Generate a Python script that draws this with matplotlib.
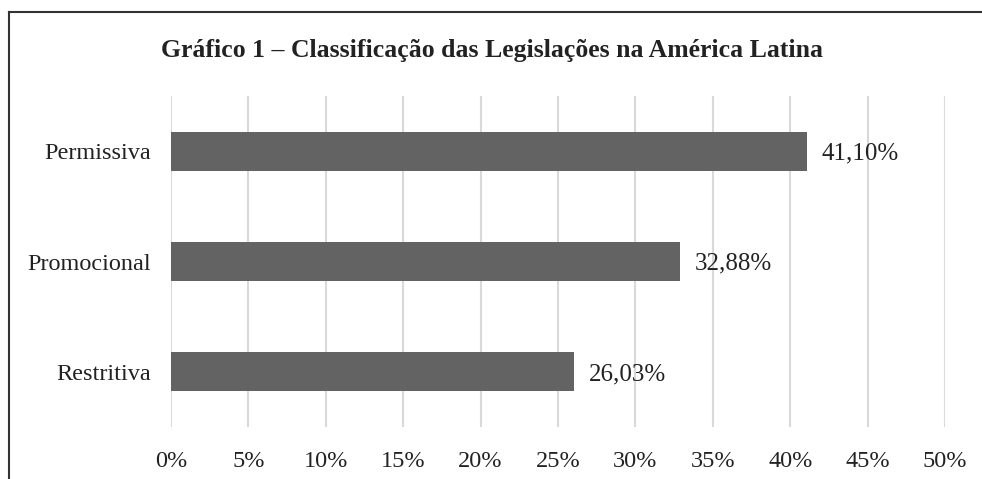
import matplotlib.pyplot as plt
from matplotlib.lines import Line2D

categorias = ['Permissiva', 'Promocional', 'Restritiva']
valores = [41.10, 32.88, 26.03]
rotulos = ['41,10%', '32,88%', '26,03%']
ticks = [0, 5, 10, 15, 20, 25, 30, 35, 40, 45, 50]

plt.rcParams['font.family'] = ['Liberation Serif', 'DejaVu Serif']

fig = plt.figure(figsize=(9.82, 4.79), dpi=100)
ax = fig.add_axes([171 / 982, 1 - 427 / 479, (945 - 171) / 982, (427 - 96) / 479])

pos = list(range(len(categorias)))
ax.barh(pos, valores, height=0.354, color='#636363', zorder=3)
for p, v, r in zip(pos, valores, rotulos):
    ax.text(v + 0.95, p + 0.02, r, va='center', ha='left', fontsize=18, color='#222222')

ax.set_xlim(0, 50)
ax.set_ylim(2.5, -0.5)
ax.set_yticks(pos)
ax.set_yticklabels(categorias, fontsize=17.5, color='#222222')
ax.set_xticks(ticks)
ax.set_xticklabels([f'{t}%' for t in ticks], fontsize=17.5, color='#222222')
ax.tick_params(axis='both', length=0)
ax.tick_params(axis='x', pad=17)
ax.tick_params(axis='y', pad=14.5)
ax.grid(axis='x', color='#d9d9d9', linewidth=1.5, zorder=0)
for s in ax.spines.values():
    s.set_visible(False)

fig.text(492 / 982, 1 - 51 / 479, 'Gráfico 1 – Classificação das Legislações na América Latina',
         ha='center', va='center', fontsize=18.5, fontweight='bold', color='#222222')

# moldura
fig.add_artist(Line2D([9 / 982, 9 / 982], [0, 1 - 12 / 479], transform=fig.transFigure, color='#333333', linewidth=1.5))
fig.add_artist(Line2D([9 / 982, 1], [1 - 12 / 479, 1 - 12 / 479], transform=fig.transFigure, color='#333333', linewidth=1.5))

fig.savefig('out.png', dpi=100)
